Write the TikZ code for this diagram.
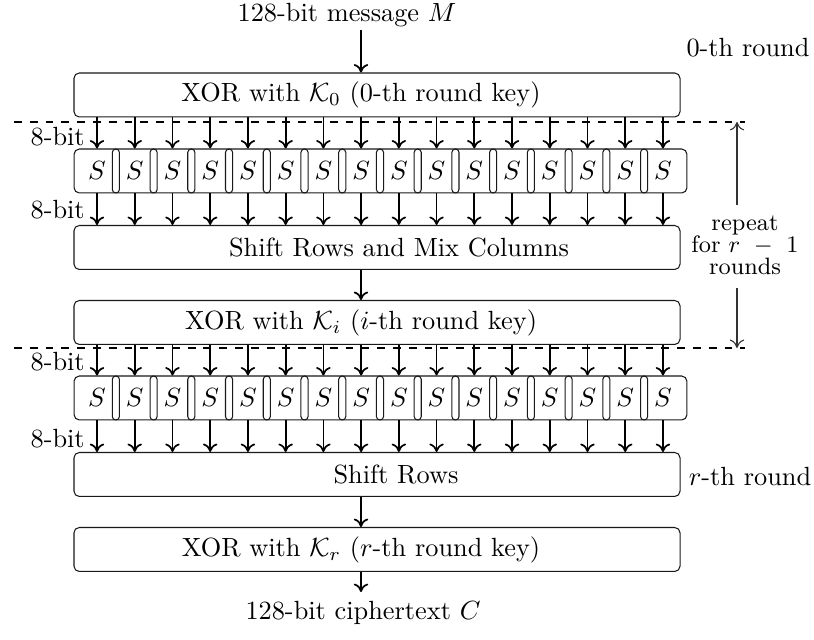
\documentclass[tikz,border=0pt]{standalone}
\usepackage{amsmath}
\usetikzlibrary{arrows.meta, positioning}

\begin{document}
\begin{tikzpicture}[x=0.38pt, y=-0.38pt, >={To[length=3.2pt,width=5.5pt]},
  roundbox/.style={draw=black!90, rounded corners=2pt, minimum width=230.3pt, minimum height=16.7pt, inner sep=0pt},
  sepbox/.style={draw=black!90, rounded corners=1.3pt, minimum width=2.7pt, minimum height=16.7pt, inner sep=0pt},
  bus/.style={->, line width=0.65pt}]
\useasboundingbox (0,0) rectangle (814,640);

% input and output
\node (msg) at (347,15) {128-bit message $M$};
\coordinate (msgin) at (361,30);
\node (cipher) at (363,613) {128-bit ciphertext $C$};

% boxes
\node [roundbox] (xor0) at (377,95) {};
\node at (361,95) {XOR with $\mathcal{K}_0$ (0-th round key)};
\node [roundbox] (shiftmix) at (377,247.5) {};
\node at (399,248) {Shift Rows and Mix Columns};
\node [roundbox] (xori) at (377,322.5) {};
\node at (361,322.5) {XOR with $\mathcal{K}_i$ ($i$-th round key)};
\node [roundbox] (shift) at (377,474.5) {};
\node at (396,475) {Shift Rows};
\node [roundbox] (xorr) at (377,549.5) {};
\node at (361,549.5) {XOR with $\mathcal{K}_r$ ($r$-th round key)};

% s-box rows
\foreach \r/\y in {a/171, b/398} {
  \node [roundbox, minimum width=232.9pt] (row\r) at (380.5,\y) {};
  \foreach \k in {1,...,16}
    \node (s\r\k) at ({97+37.73*(\k-1)},\y) {$S$};
  \foreach \k in {1,...,15}
    \node [sepbox] at ({97+37.73*(\k-0.5)},\y) {};
}

% 8-bit buses
\foreach \k in {1,...,16} {
  \draw [bus] (sa\k |- xor0.south) -- (sa\k |- rowa.north);
  \draw [bus] (sa\k |- rowa.south) -- (sa\k |- shiftmix.north);
  \draw [bus] (sb\k |- xori.south) -- (sb\k |- rowb.north);
  \draw [bus] (sb\k |- rowb.south) -- (sb\k |- shift.north);
}
\node [anchor=east] at (94,137) {8-bit};
\node [anchor=east] at (94,210) {8-bit};
\node [anchor=east] at (94,362) {8-bit};
\node [anchor=east] at (94,439) {8-bit};

% 128-bit path
\draw [bus] (msgin) -- (msgin |- xor0.north);
\draw [bus] (msgin |- shiftmix.south) -- (msgin |- xori.north);
\draw [bus] (msgin |- shift.south) -- (msgin |- xorr.north);
\draw [bus] (msgin |- xorr.south) -- (msgin |- cipher.north);

% rounds
\node (round0) at (748,48) {0-th round};
\node (roundr) at (750,477) {$r$-th round};
\draw [dashed] (14,122) -- (745,122);
\draw [dashed] (14,348) -- (745,348);
\node [align=center, font=\small, inner sep=1pt] (rep) at (745,245) {repeat\\[-2.6pt]for $r\ -\ 1$\\[-2.6pt]rounds};
\coordinate (reptop) at (737,122);
\coordinate (repbot) at (737,348);
\draw [->, thin, black!80] (737,205) -- (reptop);
\draw [->, thin, black!80] (737,288) -- (repbot);
\end{tikzpicture}
\end{document}
